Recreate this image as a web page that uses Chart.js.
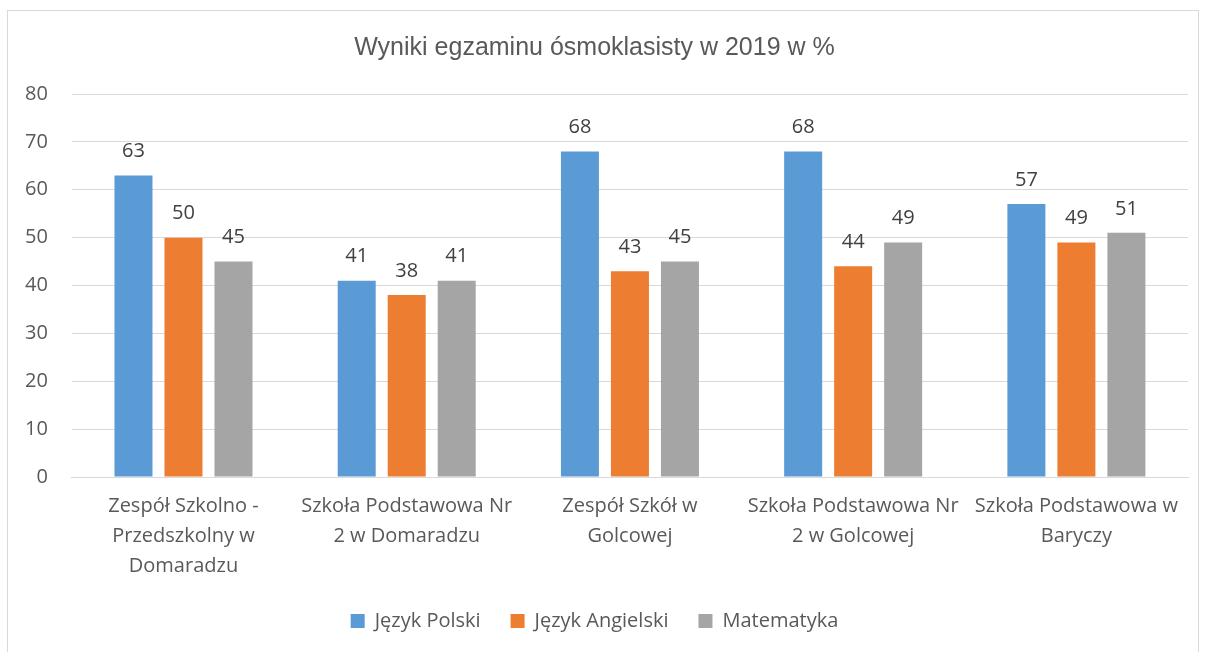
<!DOCTYPE html>
<html>
<head>
<meta charset="utf-8">
<script src="https://cdn.jsdelivr.net/npm/chart.js@4"></script>
<style>
body { margin: 0; background: #fff; }
#box { position: absolute; left: 7px; top: 10px; width: 1192px; height: 660px; border: 1px solid #d9d9d9; box-sizing: border-box; overflow: hidden; }
</style>
</head>
<body>
<div id="box"><canvas id="myChart" width="1190" height="658"></canvas></div>
<script>
var categories = [
    ['Zespół Szkolno -', 'Przedszkolny w', 'Domaradzu'],
    ['Szkoła Podstawowa Nr', '2 w Domaradzu'],
    ['Zespół Szkół w', 'Golcowej'],
    ['Szkoła Podstawowa Nr', '2 w Golcowej'],
    ['Szkoła Podstawowa w', 'Baryczy']
];
var polski = [63, 41, 68, 68, 57];
var angielski = [50, 38, 43, 44, 49];
var matematyka = [45, 41, 45, 49, 51];

// simple labels above bars
var barLabels = {
    id: 'barLabels',
    afterDatasetsDraw: function (chart) {
        var ctx = chart.ctx;
        ctx.save();
        ctx.font = '20px "Open Sans"';
        ctx.fillStyle = '#404040';
        ctx.textAlign = 'center';
        ctx.textBaseline = 'middle';
        chart.data.datasets.forEach(function (ds, i) {
            chart.getDatasetMeta(i).data.forEach(function (bar, j) {
                ctx.fillText(ds.data[j], bar.x, bar.y - 24);
            });
        });
        ctx.restore();
    }
};

var ctx = document.getElementById('myChart').getContext('2d');
var myChart = new Chart(ctx, {
    type: 'bar',
    data: {
        labels: categories,
        datasets: [
            { label: 'Język Polski', data: polski, backgroundColor: '#5B9BD5' },
            { label: 'Język Angielski', data: angielski, backgroundColor: '#ED7D31' },
            { label: 'Matematyka', data: matematyka, backgroundColor: '#A5A5A5' }
        ]
    },
    options: {
        responsive: false,
        maintainAspectRatio: false,
        animation: false,
        categoryPercentage: 0.672,
        barPercentage: 0.76,
        layout: { padding: { left: -7, right: 10, top: 8, bottom: 28 } },
        plugins: {
            title: {
                display: true,
                text: 'Wyniki egzaminu ósmoklasisty w 2019 w %',
                color: '#595959',
                font: { family: 'Liberation Sans', size: 25, weight: 'normal' },
                padding: { top: 14, bottom: 31 }
            },
            legend: {
                position: 'bottom',
                labels: {
                    color: '#595959',
                    font: { family: 'Open Sans', size: 20 },
                    boxWidth: 14,
                    boxHeight: 14,
                    padding: 30
                }
            },
            tooltip: { enabled: false }
        },
        scales: {
            x: {
                grid: { display: false },
                border: { color: '#d9d9d9', width: 1 },
                ticks: { color: '#595959', font: { family: 'Open Sans', size: 20, lineHeight: 1.5 }, maxRotation: 0, padding: 6 },
                afterFit: function (scale) { scale.height = 104; }
            },
            y: {
                min: 0,
                max: 80,
                ticks: { stepSize: 10, color: '#595959', font: { family: 'Open Sans', size: 20 }, padding: 24 },
                grid: { color: '#d9d9d9', drawTicks: false },
                border: { display: false }
            }
        }
    },
    plugins: [barLabels]
});
</script>
</body>
</html>
